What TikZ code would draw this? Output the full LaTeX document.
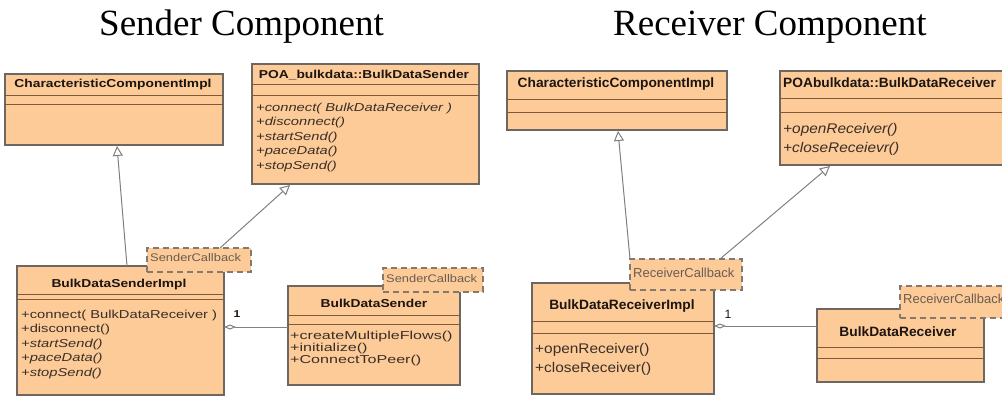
\documentclass[tikz,border=0pt]{standalone}
\usepackage{fontspec}
\setmainfont{Liberation Serif}
\newfontfamily\titlefont{Liberation Serif}
\newfontfamily\hdrL[FakeStretch=1.2]{Liberation Sans}
\newfontfamily\mthL[FakeStretch=1.28]{Liberation Sans}
\newfontfamily\mthD[FakeStretch=1.4]{Liberation Sans}
\newfontfamily\hdrR[FakeStretch=1.02]{Liberation Sans}
\newfontfamily\mthR[FakeStretch=1.1]{Liberation Sans}
\newfontfamily\tagL[FakeStretch=1.17]{Liberation Sans}
\newfontfamily\tagR[FakeStretch=1.0]{Liberation Sans}
\usetikzlibrary{arrows.meta,calc}
\definecolor{boxfill}{HTML}{FCCB98}
\definecolor{boxdraw}{HTML}{6E6660}
\definecolor{clinec}{HTML}{7E5A3A}
\definecolor{conn}{HTML}{808080}
\definecolor{txt}{HTML}{1E1410}
\definecolor{mtxt}{HTML}{3A2E28}
\definecolor{tagtxt}{HTML}{6A5C54}
\definecolor{tagdraw}{HTML}{857870}
\begin{document}
\begin{tikzpicture}[x=1pt,y=-1pt,
  cls/.style={draw=boxdraw, fill=boxfill, line width=1.1pt, anchor=north west, inner sep=0pt, outer sep=0pt},
  comp/.style={draw=clinec, line width=1pt},
  tagbox/.style={draw=tagdraw, fill=boxfill, dash pattern=on 6pt off 4pt, line width=1.2pt, anchor=north west, inner sep=0pt, outer sep=0pt},
  gen/.style={draw=conn, line width=1pt, -{Triangle[open,length=10pt,width=10pt,fill=white]}},
  assoc/.style={draw=conn, line width=1pt, {Diamond[open,length=12pt,width=5pt,fill=white]}-},
  ttl/.style={font=\titlefont\fontsize{37}{40}\selectfont, anchor=base west, inner sep=0pt},
  hL/.style={font=\hdrL\bfseries\fontsize{11.5}{13}\selectfont, text=txt, anchor=base, inner sep=0pt},
  hR/.style={font=\hdrR\bfseries\fontsize{13.5}{15}\selectfont, text=txt, anchor=base, inner sep=0pt},
  mL/.style={font=\mthL\fontsize{11.5}{13}\selectfont, text=mtxt, anchor=base west, inner sep=0pt},
  mD/.style={font=\mthD\fontsize{11.5}{13}\selectfont, text=mtxt, anchor=base west, inner sep=0pt},
  mR/.style={font=\mthR\fontsize{14}{16}\selectfont, text=mtxt, anchor=base west, inner sep=0pt},
  tL/.style={font=\tagL\fontsize{11}{13}\selectfont, text=tagtxt, anchor=base west, inner sep=0pt},
  tR/.style={font=\tagR\fontsize{13}{15}\selectfont, text=tagtxt, anchor=base west, inner sep=0pt},
  mult/.style={font=\hdrL\bfseries\fontsize{10}{12}\selectfont, text=txt, anchor=base, inner sep=0pt}
]
\useasboundingbox (0,0) rectangle (1002,396);
\clip (0,0) rectangle (1002,396);

% titles
\node[ttl] (t1) at (99,36) {Sender Component};
\node[ttl] (t2) at (613,36) {Receiver Component};

% ---------- Sender side ----------
% A
\node[cls, minimum width=218pt, minimum height=71pt] (A) at (5,74) {};
\draw[comp] (5,96) -- (223,96);
\draw[comp] (5,105) -- (223,105);
\node[hL] (Ah) at (113,88) {CharacteristicComponentImpl};

% B
\node[cls, minimum width=227pt, minimum height=120pt] (B) at (252,64) {};
\draw[comp] (252,85) -- (479,85);
\draw[comp] (252,96) -- (479,96);
\node[hL] (Bh) at (364,79) {POA\_bulkdata::BulkDataSender};
\foreach \t [count=\i] in {{+connect( BulkDataReceiver )},{+disconnect()},{+startSend()},{+paceData()},{+stopSend()}}
  \node[mL, font=\mthL\itshape\fontsize{11.5}{13}\selectfont] (Bm\i) at (256,{111+14.5*(\i-1)}) {\t};

% C
\node[cls, minimum width=207pt, minimum height=129pt] (C) at (17,266) {};
\draw[comp] (17,294) -- (224,294);
\draw[comp] (17,299) -- (224,299);
\node[hL] (Ch) at (119,287) {BulkDataSenderImpl};
\foreach \t [count=\i] in {{+connect( BulkDataReceiver )},{+disconnect()},{\itshape +startSend()},{\itshape +paceData()},{\itshape +stopSend()}}
  \node[mL] (Cm\i) at (21,{318+14.5*(\i-1)}) {\t};

% tag 1
\node[tagbox, minimum width=104pt, minimum height=24pt] (T1) at (147,248) {};
\node[tL] (T1t) at (150,261) {SenderCallback};

% D
\node[cls, minimum width=172pt, minimum height=99pt] (D) at (288,286) {};
\draw[comp] (288,315) -- (460,315);
\draw[comp] (288,324) -- (460,324);
\node[hL] (Dh) at (374,307) {BulkDataSender};
\foreach \t [count=\i] in {{+createMultipleFlows()},{+initialize()},{+ConnectToPeer()}}
  \node[mD] (Dm\i) at (290,{339+12*(\i-1)}) {\t};

% tag 2
\node[tagbox, minimum width=100pt, minimum height=24pt] (T2) at (383,268) {};
\node[tL] (T2t) at (386,282) {SenderCallback};

% connectors sender
\coordinate (g1s) at (127,266);
\coordinate (g1e) at (117,146);
\draw[gen] (g1s) -- (g1e);
\coordinate (g2s) at (220,248);
\coordinate (g2e) at (290,185);
\draw[gen] (g2s) -- (g2e);
\coordinate (a1s) at (224,327);
\coordinate (a1e) at (288,327);
\draw[assoc] (a1s) -- (a1e);
\node[mult] (m1) at (237,317) {1};

% ---------- Receiver side ----------
% E
\node[cls, minimum width=220pt, minimum height=59pt] (E) at (507,71) {};
\draw[comp] (507,100) -- (727,100);
\draw[comp] (507,112) -- (727,112);
\node[hR] (Eh) at (616,88) {CharacteristicComponentImpl};

% F
\node[cls, minimum width=240pt, minimum height=94pt] (F) at (780,71) {};
\draw[comp] (780,99) -- (1020,99);
\draw[comp] (780,112) -- (1020,112);
\node[hR, anchor=base west] (Fh) at (783,88) {POAbulkdata::BulkDataReceiver};
\foreach \t [count=\i] in {{+openReceiver()},{+closeReceievr()}}
  \node[mR, font=\mthR\itshape\fontsize{14}{16}\selectfont] (Fm\i) at (783,{133+19*(\i-1)}) {\t};

% G
\node[cls, minimum width=182pt, minimum height=111pt] (G) at (532,283) {};
\draw[comp] (532,321) -- (714,321);
\draw[comp] (532,333) -- (714,333);
\node[hR] (Gh) at (622,309) {BulkDataReceiverImpl};
\foreach \t [count=\i] in {{+openReceiver()},{+closeReceiver()}}
  \node[mR] (Gm\i) at (535,{353+19*(\i-1)}) {\t};

% tag 3
\node[tagbox, minimum width=112pt, minimum height=31pt] (T3) at (630,259) {};
\node[tR] (T3t) at (633,277) {ReceiverCallback};

% H
\node[cls, minimum width=167pt, minimum height=73pt] (H) at (817,309) {};
\draw[comp] (817,347) -- (984,347);
\draw[comp] (817,358) -- (984,358);
\node[hR] (Hh) at (898,336) {BulkDataReceiver};

% tag 4
\node[tagbox, minimum width=120pt, minimum height=32pt] (T4) at (900,286) {};
\node[tR] (T4t) at (903,303) {ReceiverCallback};

% connectors receiver
\coordinate (g3s) at (630,259);
\coordinate (g3e) at (618,131);
\draw[gen] (g3s) -- (g3e);
\coordinate (g4s) at (720,259);
\coordinate (g4e) at (830,166);
\draw[gen] (g4s) -- (g4e);
\coordinate (a2s) at (714,326);
\coordinate (a2e) at (817,326);
\draw[assoc] (a2s) -- (a2e);
\node[mult, font=\hdrR\fontsize{12}{14}\selectfont] (m2) at (728,318) {1};
\end{tikzpicture}
\end{document}
